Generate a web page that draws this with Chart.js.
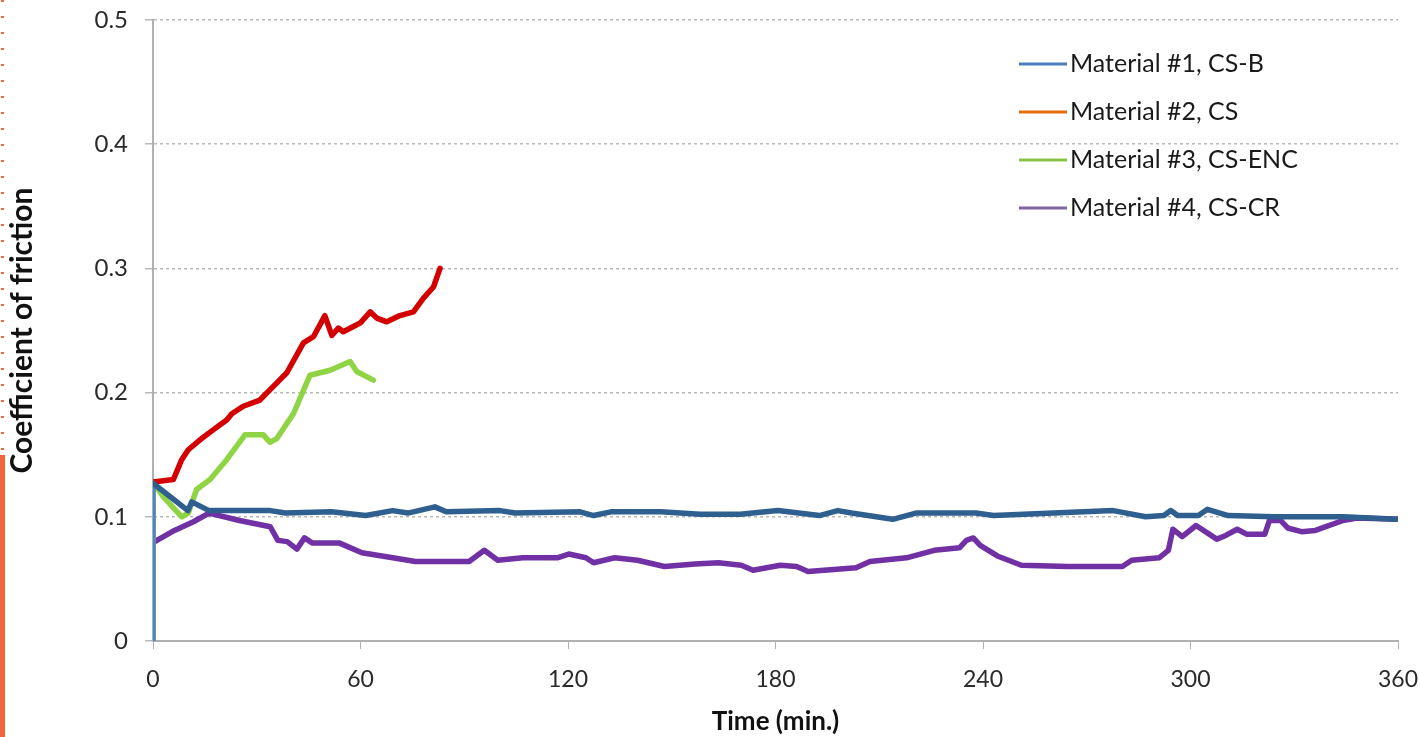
<!DOCTYPE html>
<html>
<head>
<meta charset="utf-8">
<script src="https://cdn.jsdelivr.net/npm/chart.js@4/dist/chart.umd.min.js"></script>
<style>
  html, body { margin: 0; padding: 0; background: #fff; }
  #wrap { position: relative; width: 1420px; height: 737px; overflow: hidden; }
  .edge-dots { position: absolute; left: 1px; top: 0; width: 3px; height: 452px;
    background: repeating-linear-gradient(to bottom, #f06a3c 0 2px, transparent 2px 16px); }
  .edge-bar { position: absolute; left: 0; top: 455px; width: 5px; height: 282px; background: #f0643a; }
</style>
</head>
<body>
<div id="wrap">
  <canvas id="cofChart" width="1420" height="737"></canvas>
  <div class="edge-dots"></div>
  <div class="edge-bar"></div>
</div>
<script>
// series labels
var seriesNames = ["Material #1, CS-B", "Material #2, CS", "Material #3, CS-ENC", "Material #4, CS-CR"];
var lineColors = ["#2f5f8e", "#d40000", "#8ed444", "#7130a4"];
var legendColors = ["#4a7ebb", "#e46c0a", "#8bc34a", "#8064a2"];

// Material #1, CS-B
var m1Time = [0, 0, 10.1, 11.2, 16.2, 23.9, 33.9, 38.3, 51.6, 61.5, 69.3, 73.7, 81.5, 84.8, 100.3,
  104.7, 123.5, 127.4, 132.4, 146.8, 158.2, 169.8, 180.7, 192.7, 198, 202, 213.9, 220.6, 237.9, 243.1,
  277.7, 287, 292.3, 294.3, 296.3, 302.3, 304.9, 310.9, 324.2, 344.1, 360];
var m1Cof = [0, 0.127, 0.105, 0.112, 0.105, 0.105, 0.105, 0.103, 0.104, 0.101, 0.105, 0.103, 0.108, 0.104, 0.105,
  0.103, 0.104, 0.101, 0.104, 0.104, 0.102, 0.102, 0.105, 0.101, 0.105, 0.103, 0.098, 0.103, 0.103, 0.101,
  0.105, 0.100, 0.101, 0.105, 0.101, 0.101, 0.106, 0.101, 0.100, 0.100, 0.098];

// Material #2, CS
var m2Time = [0, 5.9, 8.3, 10.2, 13.6, 17.4, 21.3, 22.8, 26.1, 30.9, 34.8, 38.7, 43.5, 46.4, 49.7,
  51.7, 53.6, 55, 59.9, 62.8, 64.7, 67.6, 71.4, 75.3, 78.2, 81.1, 83];
var m2Cof = [0.128, 0.130, 0.146, 0.154, 0.162, 0.170, 0.178, 0.183, 0.189, 0.194, 0.205, 0.216, 0.240, 0.245, 0.262,
  0.246, 0.252, 0.249, 0.256, 0.265, 0.260, 0.257, 0.262, 0.265, 0.276, 0.285, 0.300];

// Material #3, CS-ENC
var m3Time = [0, 0, 3, 8.3, 10.2, 12.6, 16.5, 21.3, 26.6, 31.9, 33.8, 35.8, 40.6, 45.4, 51.2, 57, 58.9, 63.7];
var m3Cof = [0, 0.128, 0.116, 0.100, 0.103, 0.122, 0.130, 0.146, 0.166, 0.166, 0.160, 0.163, 0.183, 0.214, 0.218, 0.225, 0.217, 0.210];

// Material #4, CS-CR
var m4Time = [0.5, 6.2, 11.7, 16.2, 25, 33.9, 36.1, 38.8, 41.6, 43.8, 46, 53.8, 60.4, 69.3, 75.9,
  91.4, 95.8, 99.7, 106.9, 116.9, 120.2, 125.2, 127.4, 133.5, 140.1, 147.9, 156.7, 163.5, 170.1, 173.5,
  181.4, 186.1, 189.4, 203.3, 207.3, 217.9, 225.9, 233.2, 235.2, 237.2, 239.2, 244.5, 251.1, 264.4, 280.3,
  283, 290.9, 293.6, 294.9, 297.6, 301.6, 307.6, 310.2, 313.5, 316.2, 321.5, 322.8, 326.1, 328.1, 332.1,
  336.1, 344.1, 348.1, 360];
var m4Cof = [0.080, 0.089, 0.096, 0.103, 0.097, 0.092, 0.081, 0.080, 0.074, 0.083, 0.079, 0.079, 0.071, 0.067, 0.064,
  0.064, 0.073, 0.065, 0.067, 0.067, 0.070, 0.067, 0.063, 0.067, 0.065, 0.060, 0.062, 0.063, 0.061, 0.057,
  0.061, 0.060, 0.056, 0.059, 0.064, 0.067, 0.073, 0.075, 0.081, 0.083, 0.077, 0.068, 0.061, 0.060, 0.060,
  0.065, 0.067, 0.073, 0.090, 0.084, 0.093, 0.082, 0.085, 0.090, 0.086, 0.086, 0.097, 0.097, 0.091, 0.088,
  0.089, 0.097, 0.099, 0.098];

// axis ticks
var timeTicks = [0, 60, 120, 180, 240, 300, 360];
var cofTicks = [0, 0.1, 0.2, 0.3, 0.4, 0.5];

var fontFamily = 'Lato, "Open Sans", sans-serif';

function toPoints(xs, ys) {
    var pts = [];
    for (var i = 0; i < xs.length; i++) {
        pts.push({ x: xs[i], y: ys[i] });
    }
    return pts;
}

var allTimes = [m1Time, m2Time, m3Time, m4Time];
var allCof = [m1Cof, m2Cof, m3Cof, m4Cof];
var datasets = [];
for (var s = 0; s < seriesNames.length; s++) {
    datasets.push({
        label: seriesNames[s],
        data: toPoints(allTimes[s], allCof[s]),
        borderColor: lineColors[s],
        borderWidth: 5.5,
        pointRadius: 0,
        tension: 0,
        borderJoinStyle: 'round',
        borderCapStyle: 'round',
        fill: false
    });
}
// the rise at t = 0 is drawn in the lighter legend blue
datasets[0].segment = {
    borderColor: function(ctx) { return ctx.p0DataIndex === 0 ? '#4a86c8' : undefined; }
};

// legend drawn inside the plot, top right
var insideLegend = {
    id: 'insideLegend',
    afterDraw: function(chart) {
        var ctx = chart.ctx;
        ctx.save();
        ctx.font = '25px ' + fontFamily;
        ctx.textBaseline = 'middle';
        for (var i = 0; i < seriesNames.length; i++) {
            var y = 64 + i * 48;
            ctx.strokeStyle = legendColors[i];
            ctx.lineWidth = 3;
            ctx.beginPath();
            ctx.moveTo(1019, y);
            ctx.lineTo(1067, y);
            ctx.stroke();
            ctx.fillStyle = '#1a1a1a';
            ctx.fillText(seriesNames[i], 1070, y);
        }
        ctx.restore();
    }
};

new Chart("cofChart", {
    type: "line",
    data: { datasets: datasets },
    options: {
        responsive: false,
        animation: false,
        layout: { padding: { top: 20, right: 22, left: 0, bottom: 0 } },
        plugins: {
            legend: { display: false },
            tooltip: { enabled: false }
        },
        scales: {
            x: {
                type: 'linear',
                min: 0,
                max: 360,
                afterBuildTicks: function(scale) {
                    scale.ticks = timeTicks.map(function(v) { return { value: v }; });
                },
                afterFit: function(scale) {
                    scale.height = 96;
                    // labels may overhang the plot edges, as in the original
                    scale.paddingLeft = 0;
                    scale.paddingRight = 0;
                },
                ticks: {
                    color: '#2a2a2a',
                    font: { family: fontFamily, size: 23 },
                    padding: 17,
                    maxRotation: 0
                },
                grid: {
                    drawOnChartArea: false,
                    drawTicks: true,
                    tickLength: 8,
                    color: '#b0b0b0'
                },
                border: { color: '#b0b0b0', width: 2 },
                title: {
                    display: true,
                    text: 'Time (min.)',
                    color: '#111',
                    font: { family: fontFamily, size: 26, weight: 'bold' },
                    padding: { top: 0, bottom: 0 }
                }
            },
            y: {
                min: 0,
                max: 0.5,
                afterBuildTicks: function(scale) {
                    scale.ticks = cofTicks.map(function(v) { return { value: v }; });
                },
                afterFit: function(scale) {
                    scale.width = 153;
                    scale.paddingTop = 0;
                    scale.paddingBottom = 0;
                },
                ticks: {
                    color: '#2a2a2a',
                    font: { family: fontFamily, size: 24 },
                    padding: 17
                },
                grid: {
                    color: '#b8b8b8',
                    lineWidth: 1.5,
                    tickLength: 8
                },
                border: { display: true, color: '#b0b0b0', width: 2, dash: [3, 3] },
                title: {
                    display: true,
                    text: 'Coefficient of friction',
                    color: '#111',
                    font: { family: fontFamily, size: 30, weight: 'bold' },
                    padding: { top: 4, bottom: 0 }
                }
            }
        }
    },
    plugins: [insideLegend]
});
</script>
</body>
</html>
